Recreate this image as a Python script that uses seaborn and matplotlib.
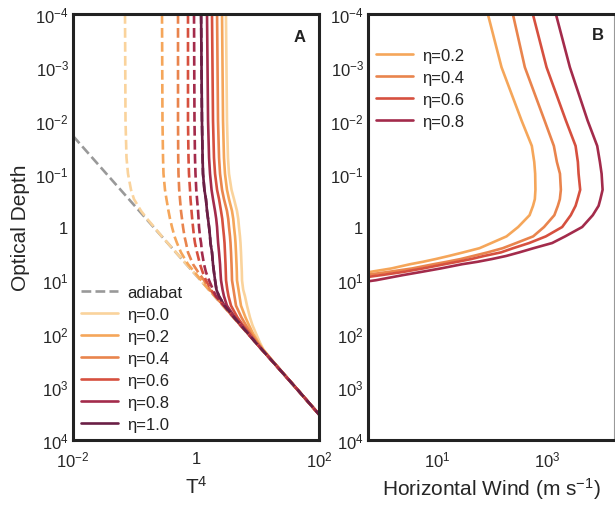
import matplotlib
matplotlib.use("Agg")
import matplotlib.pyplot as plt
import matplotlib.ticker as mticker
import seaborn as sns

# ---------------- data ----------------
eta_labels_A = ["η=0.0", "η=0.2", "η=0.4", "η=0.6", "η=0.8", "η=1.0"]
colors_A = ["#fad39c", "#f5a65a", "#e9844d", "#d6503f", "#a32b4b", "#6a1f45"]

tau_A = [1e-4, 1e-2, 0.05, 0.1, 0.2, 0.3, 0.5, 0.7, 1, 1.5, 2, 3, 5, 7, 10,
         15, 20, 30, 50, 70, 100, 150, 200, 300, 1000, 3300]

t4_solid_00 = [3.07, 3.19, 3.31, 3.44, 3.78, 4.15, 4.64, 4.86, 5.00, 5.19, 5.29, 5.39, 5.49,
               5.56, 5.60, 5.85, 6.26, 6.75, 7.55, 8.29, 9.45, 11.0, 12.5, 16.6, 40.7, 100]
t4_solid_02 = [2.65, 2.75, 2.85, 2.96, 3.19, 3.44, 3.85, 4.03, 4.15, 4.31, 4.39, 4.47, 4.56,
               4.61, 4.64, 4.91, 5.10, 5.39, 6.38, 7.28, 8.45, 10.4, 12.3, 16.5, 40.7, 100]
t4_solid_04 = [2.20, 2.28, 2.37, 2.46, 2.65, 2.85, 3.19, 3.34, 3.44, 3.57, 3.64, 3.71, 3.78,
               3.82, 3.85, 4.07, 4.23, 4.47, 5.49, 6.50, 7.84, 10.0, 12.1, 16.3, 40.7, 100]
t4_solid_06 = [1.82, 1.89, 1.96, 2.04, 2.20, 2.37, 2.55, 2.67, 2.75, 2.85, 2.91, 2.96, 3.02,
               3.05, 3.08, 3.23, 3.38, 3.71, 4.73, 5.81, 7.41, 9.63, 11.8, 16.15, 40.7, 100]
t4_solid_08 = [1.51, 1.57, 1.63, 1.69, 1.79, 1.89, 2.04, 2.13, 2.20, 2.25, 2.29, 2.37, 2.46,
               2.50, 2.55, 2.70, 2.85, 3.19, 4.31, 5.49, 7.09, 9.45, 11.8, 16.15, 40.7, 100]
t4_solid_10 = [1.21, 1.25, 1.28, 1.30, 1.37, 1.45, 1.51, 1.57, 1.63, 1.69, 1.72, 1.82, 1.89,
               1.96, 2.04, 2.15, 2.37, 2.91, 4.18, 5.39, 7.01, 9.45, 11.8, 16.15, 40.7, 100]

t4_dash_00 = [0.0701, 0.0714, 0.0741, 0.0784, 0.0877, 0.0981, 0.128, 0.160, 0.208, 0.278, 0.347,
              0.473, 0.701, 0.907, 1.19, 1.62, 2.03, 2.77, 4.09, 5.29, 6.96, 9.49, 11.8, 16.15, 40.7, 100]
t4_dash_02 = [0.280, 0.285, 0.291, 0.296, 0.313, 0.331, 0.357, 0.378, 0.407, 0.447, 0.491,
              0.570, 0.741, 0.945, 1.21, 1.62, 2.03, 2.77, 4.09, 5.29, 6.96, 9.49, 11.8, 16.15, 40.7, 100]
t4_dash_04 = [0.510, 0.510, 0.514, 0.519, 0.533, 0.549, 0.570, 0.592, 0.615, 0.650, 0.688,
              0.741, 0.894, 1.08, 1.35, 1.69, 2.08, 2.80, 4.09, 5.29, 6.96, 9.49, 11.8, 16.15, 40.7, 100]
t4_dash_06 = [0.741, 0.741, 0.755, 0.769, 0.799, 0.814, 0.845, 0.867, 0.894, 0.928, 0.963,
              1.04, 1.16, 1.28, 1.45, 1.75, 2.08, 2.85, 4.12, 5.29, 6.96, 9.49, 11.8, 16.15, 40.7, 100]
t4_dash_08 = [0.928, 0.945, 0.963, 0.981, 1.01, 1.04, 1.08, 1.10, 1.12, 1.16, 1.21,
              1.25, 1.35, 1.45, 1.63, 1.89, 2.12, 2.85, 4.15, 5.35, 6.96, 9.49, 11.8, 16.15, 40.7, 100]
t4_dash_10 = t4_solid_10

adiabat_tau = [0.0195, 3300]
adiabat_t4 = [0.01, 100]
adiabat_color = "#999999"

eta_labels_B = ["η=0.2", "η=0.4", "η=0.6", "η=0.8"]
colors_B = ["#f5a65a", "#e9844d", "#d6503f", "#a32b4b"]
tau_B = [1e-4, 1e-3, 1e-2, 0.03, 0.06, 0.1, 0.2, 0.3, 0.4, 0.6, 1, 1.5, 2, 2.5,
         3, 3.5, 4, 4.5, 5, 6, 7, 8, 10, 11]
wind_02 = [84.6, 150, 347, 533, 590, 613, 620, 605, 561, 485, 301, 185, 98, 59.7,
           30.1, 16.5, 9.5, 5.6, 3.27, 1.50, 0.60, 0.15, 0.05, 0.03]
wind_04 = [241, 398, 908, 1340, 1520, 1731, 1797, 1722, 1585, 1368, 889, 564, 277, 158,
           83.5, 45.7, 27.0, 15.2, 8.71, 3.56, 1.29, 0.5, 0.1, 0.05]
wind_06 = [556, 987, 2215, 3325, 3660, 3770, 4033, 3615, 3325, 2720, 1898, 959, 477, 244,
           146, 72.4, 42.0, 23.8, 13.8, 5.64, 2.41, 0.99, 0.2, 0.08]
wind_08 = [1458, 2620, 5495, 8220, 9200, 9880, 10300, 9390, 8710, 6830, 4385, 2150, 1248, 573,
           314, 182, 100, 55, 28.8, 11.8, 5.12, 2.44, 0.78, 0.4]

ytick_vals = [1e-4, 1e-3, 1e-2, 1e-1, 1, 1e1, 1e2, 1e3, 1e4]
ytick_labels = ["$10^{-4}$", "$10^{-3}$", "$10^{-2}$", "$10^{-1}$", "$1$",
                "$10^{1}$", "$10^{2}$", "$10^{3}$", "$10^{4}$"]
xtickA_vals = [1e-2, 1, 1e2]
xtickA_labels = ["$10^{-2}$", "$1$", "$10^{2}$"]
xtickB_vals = [1e1, 1e3]
xtickB_labels = ["$10^{1}$", "$10^{3}$"]

# ---------------- style ----------------
sns.set_style("white")
plt.rcParams["font.family"] = ["Liberation Sans", "DejaVu Sans"]
plt.rcParams["mathtext.fontset"] = "custom"
plt.rcParams["mathtext.rm"] = "Liberation Sans"
plt.rcParams["mathtext.it"] = "Liberation Sans:italic"
plt.rcParams["mathtext.bf"] = "Liberation Sans:bold"

fig = plt.figure(figsize=(6.15, 5.06), dpi=100)
axA = fig.add_axes([73 / 615, 65 / 506, 246 / 615, 426 / 506])
axB = fig.add_axes([368 / 615, 65 / 506, 246 / 615, 426 / 506])

LW = 1.9

# ---------------- panel A ----------------
sns.lineplot(x=adiabat_t4, y=adiabat_tau, ax=axA, sort=False, estimator=None,
             color=adiabat_color, lw=LW, linestyle="--", label="adiabat")
solids = [t4_solid_00, t4_solid_02, t4_solid_04, t4_solid_06, t4_solid_08, t4_solid_10]
dashes = [t4_dash_00, t4_dash_02, t4_dash_04, t4_dash_06, t4_dash_08, t4_dash_10]
for vals, c, lab in zip(solids, colors_A, eta_labels_A):
    sns.lineplot(x=vals, y=tau_A, ax=axA, sort=False, estimator=None,
                 color=c, lw=LW, label=lab)
for vals, c in zip(dashes, colors_A):
    sns.lineplot(x=vals, y=tau_A, ax=axA, sort=False, estimator=None,
                 color=c, lw=LW, linestyle="--")

# ---------------- panel B ----------------
winds = [wind_02, wind_04, wind_06, wind_08]
for vals, c, lab in zip(winds, colors_B, eta_labels_B):
    sns.lineplot(x=vals, y=tau_B, ax=axB, sort=False, estimator=None,
                 color=c, lw=LW, label=lab)

# ---------------- axes ----------------
for ax in (axA, axB):
    ax.set_xscale("log")
    ax.set_yscale("log")
    ax.set_ylim(1e4, 1e-4)
    ax.set_yticks(ytick_vals, ytick_labels)
    ax.yaxis.set_minor_locator(mticker.LogLocator(base=10, subs=range(2, 10), numticks=50))
    ax.yaxis.set_minor_formatter(mticker.NullFormatter())
    ax.xaxis.set_minor_locator(mticker.NullLocator())
    ax.tick_params(which="major", direction="in", length=3, width=0.8,
                   labelsize=12, color="#555555", pad=3)
    ax.tick_params(axis="x", which="major", pad=7)
    ax.tick_params(which="minor", direction="in", length=1.5, width=0.6, color="#777777")
    ax.set_facecolor("white")
    for s in ax.spines.values():
        s.set_linewidth(2.2)
        s.set_color("#222222")
    ax.set_ylabel("")

axA.set_xlim(1e-2, 1e2)
axA.set_xticks(xtickA_vals, xtickA_labels)
axB.set_xlim(10 ** -0.25, 10 ** 4.22)
axB.set_xticks(xtickB_vals, xtickB_labels)
axB.spines["right"].set_linewidth(0.8)
axB.spines["right"].set_color("#999999")

axA.set_ylabel("Optical Depth", fontsize=15, labelpad=4)
axA.set_xlabel("T$^{4}$", fontsize=15, labelpad=4)
axB.set_xlabel("Horizontal Wind (m s$^{-1}$)", fontsize=15, labelpad=4)

axA.text(0.923, 0.948, "A", transform=axA.transAxes, fontsize=12,
         fontweight="bold", ha="center", va="center", color="#222222")
axB.text(0.935, 0.953, "B", transform=axB.transAxes, fontsize=12,
         fontweight="bold", ha="center", va="center", color="#222222")

legA = axA.legend(loc="lower left", frameon=False, fontsize=12, handlelength=2.2,
                  handletextpad=0.55, labelspacing=0.42, borderaxespad=0.1,
                  borderpad=0.4, bbox_to_anchor=(0.0, 0.0))
legB = axB.legend(loc="upper left", frameon=False, fontsize=12, handlelength=2.2,
                  handletextpad=0.55, labelspacing=0.42, borderaxespad=0.1,
                  borderpad=0.4, bbox_to_anchor=(0.0, 0.94))
for leg in (legA, legB):
    for t in leg.get_texts():
        t.set_color("#222222")

fig.savefig("out.png", dpi=100, facecolor="white")
